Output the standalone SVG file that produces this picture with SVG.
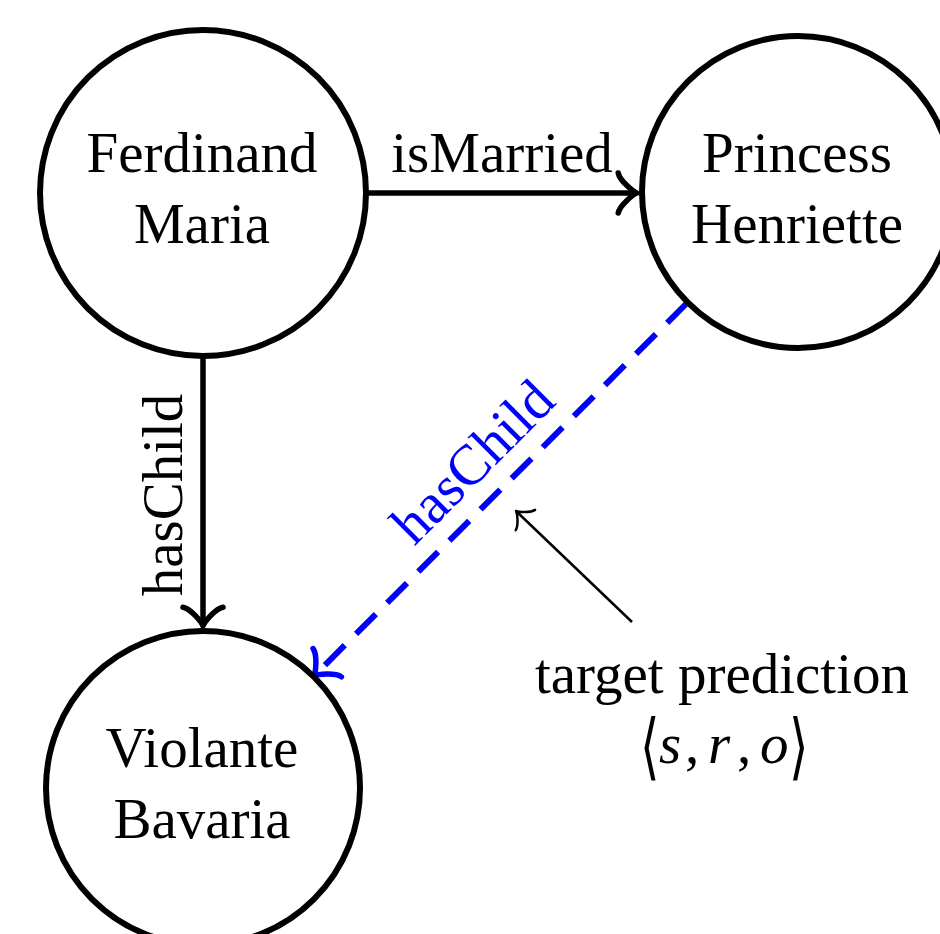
<svg xmlns="http://www.w3.org/2000/svg" width="940" height="934" viewBox="0 0 940 934">
<style>
.node circle{fill:#fff;stroke:#000;stroke-width:6}
text{font-family:"Liberation Serif","Times New Roman",serif;font-size:57px;fill:#000}
.c{text-anchor:middle}
.edge{fill:none;stroke:#000;stroke-width:5.5}
.pred{fill:none;stroke:#0000ff;stroke-width:6;stroke-dasharray:28 16}
.thin{fill:none;stroke:#000;stroke-width:2.5}
.blue{fill:#0000ff}
.it{font-style:italic}
.br{font-family:"DejaVu Serif","DejaVu Sans",serif;font-size:50px}
</style>
<defs>
<marker id="toBlack" markerUnits="userSpaceOnUse" orient="auto" overflow="visible" markerWidth="1" markerHeight="1" refX="0" refY="0">
<path d="M -18.75,20 C -17.5,12.5 -3.75,1.25 0,0 C -3.75,-1.25 -17.5,-12.5 -18.75,-20" fill="none" stroke="#000" stroke-width="5.5" stroke-linecap="round" stroke-linejoin="round"/>
</marker>
<marker id="toBlue" markerUnits="userSpaceOnUse" orient="auto" overflow="visible" markerWidth="1" markerHeight="1" refX="0" refY="0">
<path d="M -18.75,20 C -17.5,12.5 -3.75,1.25 0,0 C -3.75,-1.25 -17.5,-12.5 -18.75,-20" fill="none" stroke="#0000ff" stroke-width="5.5" stroke-linecap="round" stroke-linejoin="round"/>
</marker>
<marker id="toThin" markerUnits="userSpaceOnUse" orient="auto" overflow="visible" markerWidth="1" markerHeight="1" refX="0" refY="0">
<path d="M -13,14 C -12,8.5 -2.6,0.9 0,0 C -2.6,-0.9 -12,-8.5 -13,-14" fill="none" stroke="#000" stroke-width="2.5" stroke-linecap="round" stroke-linejoin="round"/>
</marker>
</defs>
<rect width="940" height="934" fill="#fff"/>
<g id="connectors">
<g id="edge-isMarried">
<path class="edge" d="M 368,193 L 637,193" marker-end="url(#toBlack)"/>
<text class="c" x="502" y="172">isMarried</text>
</g>
<g id="edge-hasChild">
<path class="edge" d="M 203,358 L 203,626" marker-end="url(#toBlack)"/>
<text class="c" transform="translate(182,495) rotate(-90)">hasChild</text>
</g>
<g id="edge-predicted-hasChild">
<path class="pred" d="M 687,303 L 314,676" marker-end="url(#toBlue)"/>
<text class="c blue" transform="translate(486,475) rotate(-45)">hasChild</text>
</g>
<g id="edge-target">
<path class="thin" d="M 632,622 L 516,511" marker-end="url(#toThin)"/>
</g>
</g>
<g id="node-ferdinand" class="node">
<circle cx="203" cy="193" r="163"/>
<text class="c" x="202" y="172">Ferdinand</text>
<text class="c" x="202" y="243">Maria</text>
</g>
<g id="node-princess" class="node">
<circle cx="798" cy="192" r="156"/>
<text class="c" x="797" y="172">Princess</text>
<text class="c" x="797" y="243">Henriette</text>
</g>
<g id="node-violante" class="node">
<circle cx="203" cy="788" r="157"/>
<text class="c" x="202" y="767">Violante</text>
<text class="c" x="202" y="838">Bavaria</text>
</g>
<g id="annotation">
<text class="c" x="722" y="693">target prediction</text>
<text class="br" transform="translate(640,771) scale(1,1.45)">⟨</text>
<text y="763"><tspan class="it" x="659">s</tspan><tspan x="685">,</tspan><tspan class="it" x="708">r</tspan><tspan x="737">,</tspan><tspan class="it" x="760">o</tspan></text>
<text class="br" transform="translate(789,771) scale(1,1.45)">⟩</text>
</g>
</svg>
